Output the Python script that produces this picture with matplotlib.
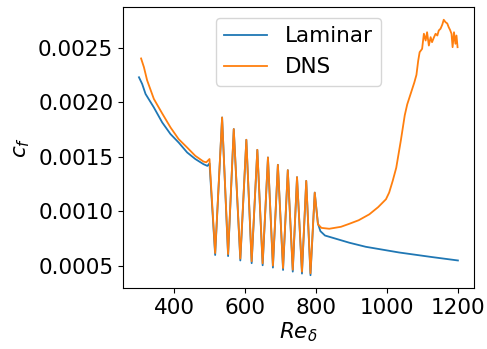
import numpy as np
import matplotlib
matplotlib.use("Agg")
from matplotlib import pyplot as plt

# values
lam_re = [300, 309, 318.6, 342, 365.5, 389, 412, 436, 459, 482, 493, 499,
          515, 534.6, 551.5, 567.5, 586, 603, 618, 634, 649, 664, 678, 692,
          706.6, 720, 734, 746, 760, 772, 784, 796,
          805, 812, 825, 846, 894, 940, 1034, 1127, 1200]
lam_cf = [0.002228, 0.002167, 0.002075, 0.001952, 0.001815, 0.001708, 0.001631,
          0.00154, 0.00148, 0.001433, 0.001417, 0.00144,
          0.000602, 0.00186, 0.000592, 0.001754, 0.000552, 0.001656, 0.000527,
          0.001564, 0.000508, 0.001494, 0.000487, 0.001427, 0.000465, 0.001378,
          0.00045, 0.001314, 0.000432, 0.00128, 0.000417, 0.001173,
          0.00089, 0.00082, 0.00078, 0.00076, 0.000714, 0.000677, 0.000625,
          0.000583, 0.000552]

dns_re = [306, 314, 323, 342, 365, 389, 412, 436, 459, 482, 490, 499,
          515, 534.6, 551.5, 567.5, 586, 603, 618, 634, 649, 664, 678, 692,
          706.6, 720, 734, 746, 760, 772, 784, 796,
          805, 815, 837, 870, 894, 920, 950, 975, 997, 1006, 1016, 1026, 1039,
          1050, 1057, 1068, 1077, 1083, 1088, 1092, 1099, 1104, 1109, 1113,
          1118, 1123, 1127, 1132, 1137, 1142, 1146, 1151, 1156, 1160, 1165,
          1170, 1174, 1178, 1182, 1185, 1189, 1193, 1196, 1199]
dns_cf = [0.00240, 0.00232, 0.00220, 0.00203, 0.00190, 0.001769, 0.001662,
          0.001585, 0.001509, 0.001457, 0.00145, 0.00148,
          0.00062, 0.00186, 0.00061, 0.001754, 0.00057, 0.001656, 0.000545,
          0.001564, 0.000526, 0.001494, 0.000505, 0.001427, 0.000483, 0.001378,
          0.000468, 0.001314, 0.00045, 0.00128, 0.000435, 0.001173,
          0.000883, 0.00085, 0.000842, 0.00086, 0.000888, 0.00092, 0.000974,
          0.00104, 0.001112, 0.001173, 0.00128, 0.0014, 0.00165,
          0.00188, 0.00198, 0.00209, 0.00218, 0.00225, 0.00238, 0.002457,
          0.002488, 0.002626, 0.002564, 0.00264, 0.002518, 0.002595, 0.002549,
          0.00259, 0.002626, 0.00261, 0.002656, 0.002672, 0.00271, 0.002754,
          0.002732, 0.00272, 0.002686, 0.00266, 0.002626, 0.002503, 0.00264,
          0.002534, 0.00261, 0.002503]

yticks = [0.0005, 0.0010, 0.0015, 0.0020, 0.0025]
xticks = [400, 600, 800, 1000, 1200]

fs = 15.5
fig = plt.figure(figsize=(4.87, 3.49), dpi=100)
ax = fig.add_axes([0.2526, 0.1748, 0.7204, 0.8052])
ax.plot(lam_re, lam_cf, label="Laminar", lw=1.3)
ax.plot(dns_re, dns_cf, label="DNS", lw=1.3)
ax.set_xticks(xticks)
ax.set_yticks(yticks)
ax.set_yticklabels(["%.4f" % v for v in yticks])
ax.tick_params(labelsize=fs)
ax.set_xlabel(r"$Re_\delta$", fontsize=fs, labelpad=2)
ax.set_ylabel(r"$c_f$", fontsize=fs, labelpad=4)
ax.legend(loc="upper center", fontsize=fs)
fig.savefig("out.png", dpi=100)
